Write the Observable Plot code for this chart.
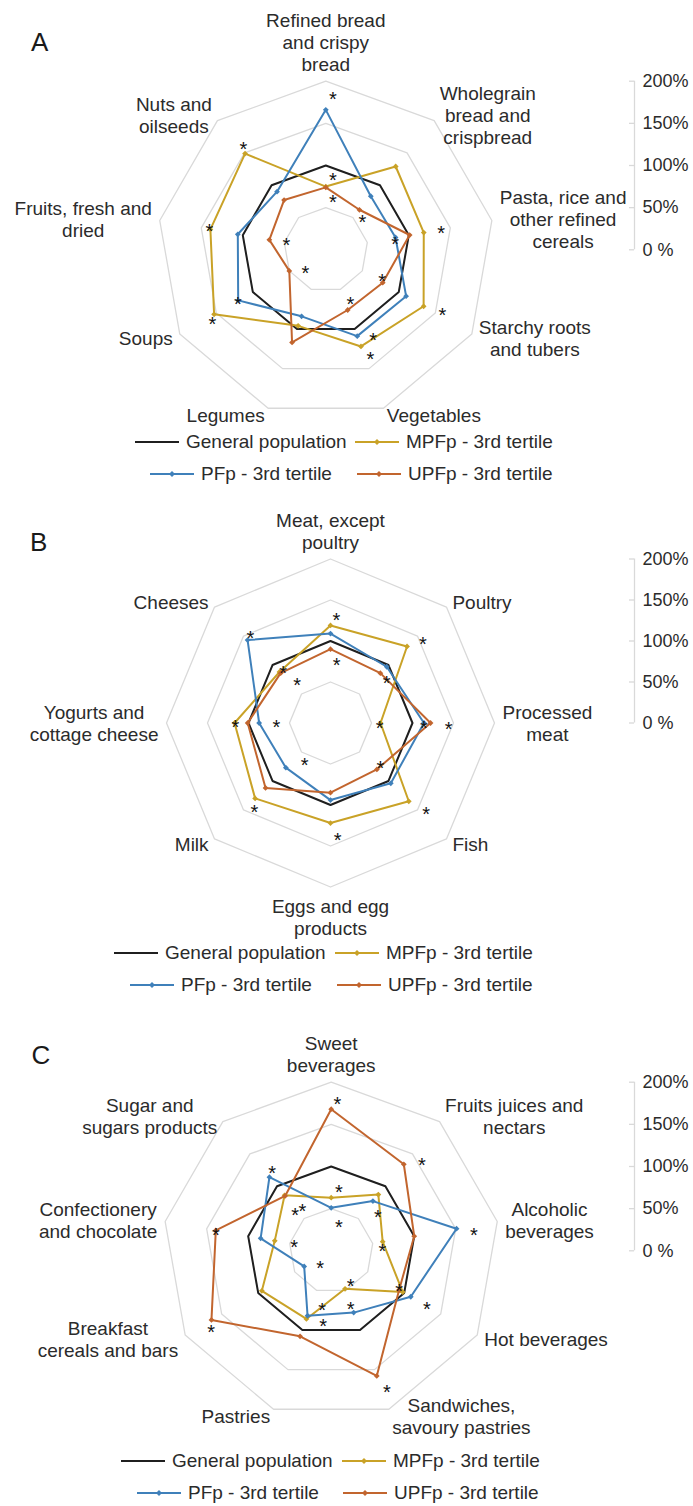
<!DOCTYPE html>
<html><head><meta charset="utf-8">
<script src="https://cdn.jsdelivr.net/npm/d3@7"></script>
<script src="https://cdn.jsdelivr.net/npm/@observablehq/plot@0.6"></script>
<style>
html,body{margin:0;padding:0;background:#fff;}
body{width:693px;height:1506px;overflow:hidden;position:relative;font-family:"Liberation Sans",Arial,sans-serif;color:#2b2b2b;}
.panel{position:absolute;left:0;width:693px;}
.letter{position:absolute;font-size:26px;line-height:26px;color:#1a1a1a;}
.leg{position:absolute;display:flex;align-items:center;height:22px;font-size:19px;line-height:22px;white-space:nowrap;color:#2b2b2b;}
.leg svg{margin-right:7px;flex:none;}
.plotwrap{position:absolute;left:0;top:0;}
</style></head>
<body>
<script>
// ---------------- DATA ----------------
const seriesNames = ["General population", "MPFp - 3rd tertile", "PFp - 3rd tertile", "UPFp - 3rd tertile"];
const axisTicks = [0, 50, 100, 150, 200];
const ringLevels = [50, 100, 150, 200];

// Panel A
const catsA = ["Refined bread\nand crispy\nbread", "Wholegrain\nbread and\ncrispbread", "Pasta, rice and\nother refined\ncereals", "Starchy roots\nand tubers", "Vegetables", "Legumes", "Soups", "Fruits, fresh and\ndried", "Nuts and\noilseeds"];
const generalA = [100, 100, 100, 100, 100, 100, 100, 100, 100];
const mpfA = [75, 129, 118, 134, 122, 96, 153, 139, 149];
const pfA = [166, 83, 84, 110, 109, 84, 120, 106, 90];
const upfA = [74, 62, 101, 78, 76, 117, 50, 68, 77];
const starAngleA = [2.6, 5.4, 7.7, 48.6, 81.8, 79.7, 115.3, 117.5, 153.7, 151, 157, 238.4, 240.4, 227, 283, 281.5, 322];
const starValueA = [184, 88, 62, 58, 83, 139, 74, 156, 66, 116, 135, 158, 120, 33, 48, 141, 159];

// Panel B
const catsB = ["Meat, except\npoultry", "Poultry", "Processed\nmeat", "Fish", "Eggs and egg\nproducts", "Milk", "Yogurts and\ncottage cheese", "Cheeses"];
const generalB = [100, 100, 100, 100, 100, 100, 100, 100];
const mpfB = [119, 132, 61, 135, 122, 130, 117, 88];
const pfB = [109, 97, 114, 104, 94, 77, 87, 143];
const upfB = [90, 86, 122, 80, 85, 112, 101, 86];
const starAngleB = [3.2, 5.5, 47.9, 52, 90.6, 90.4, 90.8, 128.9, 132, 176.3, 221.9, 214.4, 270, 270, 322, 319, 318];
const starValueB = [131, 77, 152, 87, 144, 114, 60, 78, 157, 137, 139, 56, 116, 66, 66, 88, 146];

// Panel C
const catsC = ["Sweet\nbeverages", "Fruits juices and\nnectars", "Alcoholic\nbeverages", "Hot beverages", "Sandwiches,\nsavoury pastries", "Pastries", "Breakfast\ncereals and bars", "Confectionery\nand chocolate", "Sugar and\nsugars products"];
const generalC = [100, 100, 100, 100, 100, 100, 100, 100, 100];
const mpfC = [63, 87, 62, 98, 48, 86, 95, 68, 86];
const pfC = [51, 77, 151, 109, 78, 82, 37, 85, 114];
const upfC = [168, 134, 100, 93, 158, 108, 164, 139, 85];
const starAngleC = [2.3, 6.9, 15, 45, 50.4, 81.9, 85, 119.2, 117.8, 147.5, 160.2, 157.8, 189.4, 186.4, 221, 237.5, 283, 280, 318, 327, 324.3];
const starValueC = [180, 76, 35, 152, 72, 171, 61, 130, 91, 43, 68, 175, 66, 85, 20, 169, 45, 139, 64, 63, 120];

// ---------------- STYLE / LAYOUT ----------------
const colors = {
  "General population": "#1f1f1f",
  "MPFp - 3rd tertile": "#c9a227",
  "PFp - 3rd tertile": "#3f80ba",
  "UPFp - 3rd tertile": "#c2652e"
};
const W = 693, AXIS_X = 634, GRID = "#d9d9d9", TEXT = "#2b2b2b";
const LABEL_SIZE = 19, LINE_PX = 22;
const FONT = '"Liberation Sans", Arial, sans-serif';

const panels = [
  {letter: "A", top: 0, height: 500, svgH: 432, cx: 325.3, cy: 249.3, r100: 84.3, letterPos: [31, 29.3],
   legendY: [441.7, 474], legendX: [[135, 355], [150, 357]],
   cats: catsA, values: [generalA, mpfA, pfA, upfA], starAngle: starAngleA, starValue: starValueA},
  {letter: "B", top: 500, height: 500, svgH: 440, cx: 330, cy: 222.5, r100: 82, letterPos: [30, 29],
   legendY: [453.3, 485], legendX: [[114, 335], [130, 337]],
   cats: catsB, values: [generalB, mpfB, pfB, upfB], starAngle: starAngleB, starValue: starValueB},
  {letter: "C", top: 1000, height: 506, svgH: 446, cx: 330.7, cy: 250.3, r100: 84.3, letterPos: [31.5, 41.6],
   legendY: [461, 493.3], legendX: [[121, 342], [137, 343]],
   cats: catsC, values: [generalC, mpfC, pfC, upfC], starAngle: starAngleC, starValue: starValueC}
];

const ctx = document.createElement("canvas").getContext("2d");
ctx.font = `${LABEL_SIZE}px ${FONT}`;

function swatch(name) {
  const c = colors[name];
  const marker = name !== seriesNames[0]
    ? `<polygon points="22,3 25,6 22,9 19,6" fill="${c}"/>` : "";
  return `<svg width="44" height="12" viewBox="0 0 44 12"><line x1="0" x2="44" y1="6" y2="6" stroke="${c}" stroke-width="2"/>${marker}</svg>`;
}

function drawPanel(p) {
  const div = document.createElement("div");
  div.className = "panel";
  div.style.top = p.top + "px";
  div.style.height = p.height + "px";
  document.body.appendChild(div);

  const n = p.cats.length, step = 360 / n, rad = Math.PI / 180;
  const k = 100 / p.r100; // value units per pixel
  const polar = (deg, v) => [v * Math.sin(deg * rad), v * Math.cos(deg * rad)];

  const rings = ringLevels.flatMap(L => p.cats.map((c, i) => {
    const [x, y] = polar(i * step, L); return {L, x, y};
  }));
  const pts = seriesNames.flatMap((s, si) => p.values[si].map((v, i) => {
    const [x, y] = polar(i * step, v); return {s, i, x, y};
  }));
  const stars = p.starAngle.map((a, j) => {
    const [x, y] = polar(a, p.starValue[j]); return {x, y};
  });
  const labels = p.cats.map((c, i) => {
    const th = i * step * rad, s = Math.sin(th), co = Math.cos(th);
    const lines = c.split("\n");
    const w = Math.max(...lines.map(l => ctx.measureText(l).width));
    const h = lines.length * LINE_PX;
    const vx = 2 * p.r100 * s, vy = 2 * p.r100 * co;
    let X, Y;
    if (Math.abs(s) < 0.1) { X = vx; Y = co > 0 ? vy + h / 2 + 6 : vy - h / 2 - 8; }
    else { X = vx + Math.sign(s) * (7 * Math.abs(s) + 1 + w / 2); Y = vy + 7 * co; }
    return {text: c, x: X * k, y: Y * k};
  });

  const xMax = (AXIS_X - p.cx) * k;
  const chart = Plot.plot({
    width: W, height: p.svgH,
    marginLeft: 0, marginRight: W - AXIS_X, marginTop: 0, marginBottom: 0,
    x: {domain: [-p.cx * k, xMax], axis: null},
    y: {domain: [-(p.svgH - p.cy) * k, p.cy * k], axis: null},
    color: {type: "identity"},
    style: {fontFamily: FONT, color: TEXT, background: "transparent", overflow: "visible"},
    marks: [
      Plot.line(rings, {x: "x", y: "y", z: "L", curve: "linear-closed", stroke: GRID, strokeWidth: 1.3}),
      Plot.ruleX([xMax], {y1: 0, y2: 200, stroke: GRID, strokeWidth: 1.3}),
      Plot.ruleY(axisTicks, {x1: xMax - 5 * k, x2: xMax, stroke: GRID, strokeWidth: 1.3}),
      Plot.axisY(axisTicks, {anchor: "right", tickSize: 0, tickPadding: 8, label: null,
        tickFormat: d => d === 0 ? "0 %" : d + "%", fontSize: 18}),
      Plot.line(pts, {x: "x", y: "y", z: "s", stroke: d => colors[d.s], curve: "linear-closed", strokeWidth: 2}),
      Plot.dot(pts.filter(d => d.s !== seriesNames[0]), {x: "x", y: "y", fill: d => colors[d.s], symbol: "diamond2", r: 2.6}),
      Plot.text(stars, {x: "x", y: "y", text: () => "*", fontSize: 20, dy: 5, fill: "#111"}),
      Plot.text(labels, {x: "x", y: "y", text: "text", fontSize: LABEL_SIZE, lineHeight: LINE_PX / LABEL_SIZE,
        textAnchor: "middle", lineAnchor: "middle", fill: TEXT})
    ]
  });
  const wrap = document.createElement("div");
  wrap.className = "plotwrap";
  wrap.appendChild(chart);
  div.appendChild(wrap);

  const letter = document.createElement("div");
  letter.className = "letter";
  letter.textContent = p.letter;
  letter.style.left = p.letterPos[0] + "px";
  letter.style.top = p.letterPos[1] + "px";
  div.appendChild(letter);

  const order = [[seriesNames[0], seriesNames[1]], [seriesNames[2], seriesNames[3]]];
  order.forEach((row, r) => row.forEach((name, c) => {
    const it = document.createElement("div");
    it.className = "leg";
    it.style.left = p.legendX[r][c] + "px";
    it.style.top = (p.legendY[r] - 11) + "px";
    it.innerHTML = swatch(name) + `<span>${name}</span>`;
    div.appendChild(it);
  }));
}

panels.forEach(drawPanel);
</script>
</body></html>
